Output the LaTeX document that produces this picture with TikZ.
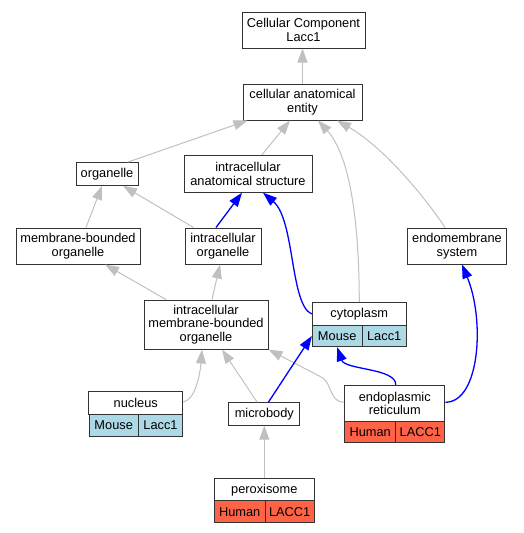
\documentclass[tikz,border=0pt]{standalone}
\usepackage{fontspec}
\setmainfont{Liberation Sans}
\usetikzlibrary{arrows.meta}
\definecolor{mouseblue}{HTML}{ADD8E6}
\definecolor{humanred}{HTML}{FF6347}
\definecolor{isagray}{HTML}{C0C0C0}
\begin{document}
\begin{tikzpicture}[x=1pt, y=1pt,
    term/.style={draw=black!80, line width=1pt, fill=white, inner sep=0pt, align=center,
        font=\fontsize{12.8}{13.5}\selectfont},
    isa/.style={-{Triangle[length=14pt, width=10pt]}, color=isagray, line width=1pt},
    partof/.style={-{Triangle[length=14pt, width=10pt]}, color=blue, line width=1.3pt}]
    \useasboundingbox (0,0) rectangle (523,-533);
    \node[term, minimum width=123, minimum height=36] (cc) at (303.5,-30) {Cellular Component\\Lacc1};
    \node[term, minimum width=119, minimum height=36] (cae) at (302.5,-102) {cellular anatomical\\entity};
    \node[term, minimum width=62, minimum height=22.6] (org) at (107,-174) {organelle};
    \node[term, minimum width=128, minimum height=37] (ias) at (248,-173.7) {intracellular\\anatomical structure};
    \node[term, minimum width=124, minimum height=36] (mbo) at (78,-246) {membrane-bounded\\organelle};
    \node[term, minimum width=76, minimum height=36] (io) at (223,-246) {intracellular\\organelle};
    \node[term, minimum width=99, minimum height=36] (ems) at (457,-246) {endomembrane\\system};
    \node[term, minimum width=124, minimum height=49] (imbo) at (206,-324.5) {intracellular\\membrane-bounded\\organelle};
    \node[term, minimum width=94, minimum height=22.6] (cyto) at (359.3,-314) {cytoplasm};
    \node[term, fill=mouseblue, minimum width=49.7, minimum height=21.4] (cytoM) at (337.2,-336) {Mouse};
    \node[term, fill=mouseblue, minimum width=44.3, minimum height=21.4] (cytoL) at (384.2,-336) {Lacc1};
    \node[term, minimum width=93.7, minimum height=22.6] (nuc) at (135.8,-403) {nucleus};
    \node[term, fill=mouseblue, minimum width=49.3, minimum height=21.7] (nucM) at (113.7,-425.2) {Mouse};
    \node[term, fill=mouseblue, minimum width=44.4, minimum height=21.7] (nucL) at (160.5,-425.2) {Lacc1};
    \node[term, minimum width=70.7, minimum height=22.3] (mb) at (264.3,-414) {microbody};
    \node[term, minimum width=100.3, minimum height=36] (er) at (394.8,-403.3) {endoplasmic\\reticulum};
    \node[term, fill=humanred, minimum width=51, minimum height=21.4] (erH) at (370.2,-432) {Human};
    \node[term, fill=humanred, minimum width=49.3, minimum height=21.4] (erL) at (420.3,-432) {LACC1};
    \node[term, minimum width=100, minimum height=22] (per) at (264.3,-489.7) {peroxisome};
    \node[term, fill=humanred, minimum width=50.7, minimum height=22] (perH) at (239.7,-511.7) {Human};
    \node[term, fill=humanred, minimum width=49.3, minimum height=22] (perL) at (289.7,-511.7) {LACC1};
    % is_a
    \draw [isa] (cae.north) -- (cae.north |- cc.south);
    \draw [isa] ([xshift=-11pt]org.north east) -- ([xshift=5pt]cae.south west);
    \draw [isa] ([xshift=14pt]ias.north) -- ([xshift=-12.5pt]cae.south);
    \draw [isa] (cyto.north) .. controls (359,-200) and (345,-150) .. ([xshift=15.5pt]cae.south);
    \draw [isa] ([xshift=-12pt]ems.north) .. controls (420,-190) and (380,-145) .. ([xshift=34.5pt]cae.south);
    \draw [isa] ([xshift=8pt]mbo.north) -- ([xshift=-5pt]org.south);
    \draw [isa] ([xshift=9pt]io.north west) -- ([xshift=16pt]org.south);
    \draw [isa] ([xshift=-40pt]imbo.north) -- ([xshift=27pt]mbo.south);
    \draw [isa] ([xshift=6pt]imbo.north) -- ([xshift=-3pt]io.south);
    \draw [isa] ([yshift=1pt]nuc.east) .. controls (195,-400) and (200,-375) .. ([xshift=-4pt]imbo.south);
    \draw [isa] ([xshift=-7pt]mb.north) -- ([xshift=16pt]imbo.south);
    \draw [isa] ([yshift=1pt]er.west) .. controls (330,-402) and (332,-385) .. (323,-378) -- (imbo.south east);
    \draw [isa] (per.north) -- (mb.south);
    % part_of
    \draw [partof] ([xshift=-7pt]io.north) -- ([xshift=-6pt]ias.south);
    \draw [partof] (cyto.west) .. controls (290,-305) and (295,-220) .. ([xshift=15pt]ias.south);
    \draw [partof] ([xshift=4pt]mb.north) -- (cytoM.west);
    \draw [partof] ([xshift=1pt]er.north) .. controls (396,-368) and (345,-370) .. (cytoM.south);
    \draw [partof] ([yshift=1pt]er.east) .. controls (480,-402) and (485,-320) .. ([xshift=5pt]ems.south);
\end{tikzpicture}
\end{document}
